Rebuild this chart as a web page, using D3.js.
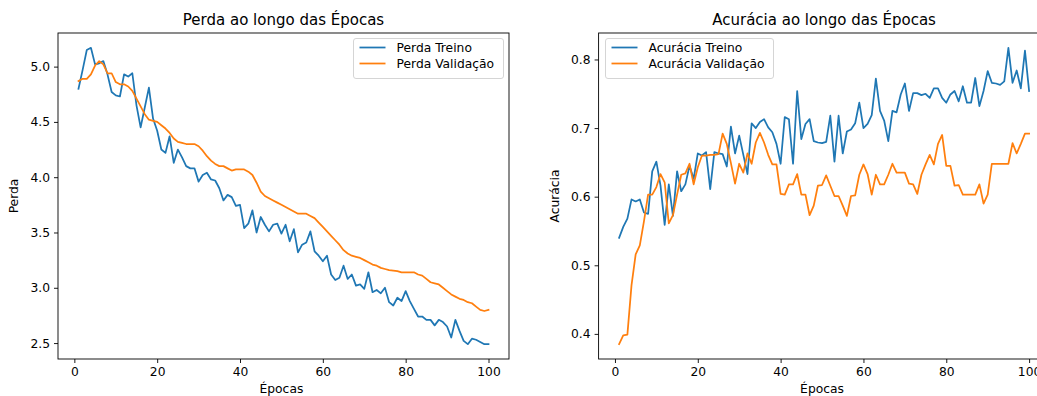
<!DOCTYPE html>
<html>
<head>
<meta charset="utf-8">
<script src="https://cdn.jsdelivr.net/npm/d3@7"></script>
<style>
  body { margin: 0; background: #fff; }
  svg { display: block; overflow: hidden; }
  text { font-family: "DejaVu Sans", sans-serif; fill: #000; }
</style>
</head>
<body>
<main></main>
<script>
const width = 1037;
const height = 396;
const plotTop = 33;
const plotBottom = 359;
const fontSize = 12.3;

// epochs 1..100
const epochs = d3.range(1, 101);

const lossTrain = [
  4.80, 4.97, 5.15, 5.17, 5.02, 5.03, 5.05, 4.93, 4.77, 4.74,
  4.73, 4.93, 4.91, 4.94, 4.65, 4.45, 4.63, 4.81, 4.53, 4.42,
  4.25, 4.22, 4.37, 4.13, 4.25, 4.18, 4.10, 4.08, 4.08, 3.96,
  4.02, 4.04, 3.98, 3.97, 3.90, 3.79, 3.84, 3.82, 3.74, 3.75,
  3.54, 3.58, 3.70, 3.50, 3.64, 3.57, 3.51, 3.57, 3.58, 3.49,
  3.57, 3.42, 3.53, 3.32, 3.39, 3.41, 3.51, 3.33, 3.29, 3.24,
  3.29, 3.12, 3.07, 3.09, 3.20, 3.08, 3.12, 3.02, 3.03, 2.99,
  3.14, 2.96, 2.98, 2.95, 3.00, 2.87, 2.84, 2.91, 2.88, 2.97,
  2.88, 2.81, 2.74, 2.74, 2.71, 2.71, 2.66, 2.71, 2.69, 2.65,
  2.55, 2.71, 2.61, 2.52, 2.49, 2.54, 2.53, 2.51, 2.49, 2.49
];

const lossVal = [
  4.87, 4.89, 4.89, 4.93, 5.01, 5.05, 5.02, 4.94, 4.94, 4.86,
  4.84, 4.84, 4.82, 4.78, 4.71, 4.64, 4.57, 4.52, 4.51, 4.50,
  4.47, 4.44, 4.40, 4.35, 4.32, 4.31, 4.30, 4.30, 4.30, 4.28,
  4.24, 4.19, 4.15, 4.12, 4.10, 4.10, 4.08, 4.06, 4.07, 4.07,
  4.07, 4.05, 4.02, 3.95, 3.87, 3.83, 3.81, 3.79, 3.77, 3.75,
  3.73, 3.71, 3.69, 3.67, 3.67, 3.67, 3.65, 3.63, 3.59, 3.55,
  3.51, 3.47, 3.43, 3.39, 3.34, 3.31, 3.29, 3.28, 3.27, 3.25,
  3.23, 3.21, 3.20, 3.18, 3.17, 3.16, 3.155, 3.15, 3.14, 3.14,
  3.14, 3.14, 3.12, 3.11, 3.08, 3.05, 3.04, 3.03, 3.00, 2.97,
  2.94, 2.92, 2.90, 2.89, 2.87, 2.86, 2.83, 2.80, 2.79, 2.80
];

const accTrain = [
  0.540, 0.556, 0.568, 0.596, 0.593, 0.596, 0.577, 0.575, 0.637, 0.651,
  0.616, 0.559, 0.618, 0.572, 0.637, 0.608, 0.618, 0.645, 0.626, 0.663,
  0.660, 0.665, 0.611, 0.665, 0.663, 0.662, 0.644, 0.702, 0.663, 0.689,
  0.661, 0.633, 0.707, 0.700, 0.709, 0.713, 0.701, 0.694, 0.677, 0.648,
  0.716, 0.713, 0.648, 0.754, 0.684, 0.706, 0.713, 0.681, 0.679, 0.678,
  0.680, 0.718, 0.651, 0.718, 0.663, 0.695, 0.698, 0.707, 0.737, 0.700,
  0.706, 0.719, 0.772, 0.725, 0.711, 0.681, 0.725, 0.723, 0.749, 0.765,
  0.725, 0.751, 0.751, 0.748, 0.750, 0.744, 0.758, 0.758, 0.744, 0.737,
  0.749, 0.754, 0.739, 0.761, 0.737, 0.737, 0.773, 0.732, 0.754, 0.783,
  0.766, 0.765, 0.763, 0.768, 0.817, 0.766, 0.784, 0.758, 0.813, 0.754
];

const accVal = [
  0.385, 0.398, 0.399, 0.471, 0.516, 0.529, 0.564, 0.603, 0.603, 0.614,
  0.633, 0.621, 0.561, 0.573, 0.603, 0.632, 0.634, 0.648, 0.618, 0.643,
  0.660, 0.660, 0.661, 0.661, 0.662, 0.692, 0.677, 0.649, 0.619, 0.648,
  0.635, 0.663, 0.648, 0.679, 0.693, 0.679, 0.661, 0.647, 0.647, 0.604,
  0.603, 0.618, 0.618, 0.633, 0.603, 0.603, 0.573, 0.587, 0.616, 0.617,
  0.631, 0.616, 0.601, 0.601, 0.587, 0.572, 0.601, 0.602, 0.632, 0.647,
  0.633, 0.603, 0.632, 0.618, 0.618, 0.632, 0.648, 0.635, 0.635, 0.635,
  0.619, 0.618, 0.604, 0.632, 0.647, 0.661, 0.647, 0.677, 0.690, 0.645,
  0.645, 0.616, 0.617, 0.603, 0.603, 0.603, 0.603, 0.618, 0.590, 0.603,
  0.648, 0.648, 0.648, 0.648, 0.648, 0.678, 0.663, 0.677, 0.692, 0.692
];

const xTicks = [0, 20, 40, 60, 80, 100];
const lossTicks = [2.5, 3.0, 3.5, 4.0, 4.5, 5.0];
const accTicks = [0.4, 0.5, 0.6, 0.7, 0.8];

const blue = '#1f77b4';
const orange = '#ff7f0e';

const svg = d3.select('main')
  .append('svg')
  .attr('width', width)
  .attr('height', height);

// matplotlib style 5% margins
const padded = (lo, hi) => {
  const m = (hi - lo) * 0.05;
  return [lo - m, hi + m];
};

const drawPanel = (cfg) => {
  const x = d3.scaleLinear().domain(padded(1, 100)).range([cfg.left, cfg.right]);
  const allVals = cfg.train.concat(cfg.val);
  const y = d3.scaleLinear().domain(padded(d3.min(allVals), d3.max(allVals))).range([plotBottom, plotTop]);

  const g = svg.append('g');

  const line = (vals) => d3.line()
    .x((d, i) => x(epochs[i]))
    .y((d) => y(d))(vals);

  g.append('path')
    .attr('d', line(cfg.train))
    .attr('fill', 'none')
    .attr('stroke', blue)
    .attr('stroke-width', 1.75)
    .attr('stroke-linejoin', 'round')
    .attr('stroke-linecap', 'square');

  g.append('path')
    .attr('d', line(cfg.val))
    .attr('fill', 'none')
    .attr('stroke', orange)
    .attr('stroke-width', 1.75)
    .attr('stroke-linejoin', 'round')
    .attr('stroke-linecap', 'square');

  // axes
  const xAxis = g.append('g')
    .attr('transform', 'translate(0,' + plotBottom + ')')
    .call(d3.axisBottom(x).tickValues(xTicks).tickFormat(d3.format('d')).tickSizeOuter(0).tickSize(4).tickPadding(4));

  const yAxis = g.append('g')
    .attr('transform', 'translate(' + cfg.left + ',0)')
    .call(d3.axisLeft(y).tickValues(cfg.ticks).tickFormat(d3.format('.1f')).tickSizeOuter(0).tickSize(4).tickPadding(4));

  [xAxis, yAxis].forEach((a) => {
    a.select('.domain').remove();
    a.selectAll('line').attr('stroke', '#000').attr('stroke-width', 0.9);
    a.selectAll('text')
      .attr('font-family', '"DejaVu Sans", sans-serif')
      .attr('font-size', fontSize)
      .attr('fill', '#000');
  });

  // frame
  g.append('rect')
    .attr('x', cfg.left)
    .attr('y', plotTop)
    .attr('width', cfg.right - cfg.left)
    .attr('height', plotBottom - plotTop)
    .attr('fill', 'none')
    .attr('stroke', '#000')
    .attr('stroke-width', 0.9);

  const cx = (cfg.left + cfg.right) / 2;

  g.append('text')
    .attr('x', cx)
    .attr('y', 25)
    .attr('text-anchor', 'middle')
    .attr('font-size', 15)
    .text(cfg.title);

  g.append('text')
    .attr('x', x(50))
    .attr('y', 393)
    .attr('text-anchor', 'middle')
    .attr('font-size', fontSize)
    .text('Épocas');

  g.append('text')
    .attr('transform', 'translate(' + cfg.ylabelX + ',' + ((plotTop + plotBottom) / 2) + ') rotate(-90)')
    .attr('text-anchor', 'middle')
    .attr('font-size', fontSize)
    .text(cfg.ylabel);

  // legend
  const lg = g.append('g').attr('transform', 'translate(' + cfg.legendX + ',38.5)');
  lg.append('rect')
    .attr('width', cfg.legendW)
    .attr('height', 40)
    .attr('rx', 2.5)
    .attr('fill', '#fff')
    .attr('fill-opacity', 0.8)
    .attr('stroke', '#d0d0d0')
    .attr('stroke-width', 0.9);

  cfg.labels.forEach((lab, i) => {
    const yy = 9 + i * 16;
    lg.append('line')
      .attr('x1', 6).attr('x2', 32)
      .attr('y1', yy).attr('y2', yy)
      .attr('stroke', i === 0 ? blue : orange)
      .attr('stroke-width', 1.75);
    lg.append('text')
      .attr('x', 43)
      .attr('y', yy + 4.3)
      .attr('font-size', fontSize)
      .text(lab);
  });
};

drawPanel({
  left: 58, right: 509,
  train: lossTrain, val: lossVal, ticks: lossTicks,
  title: 'Perda ao longo das Épocas', ylabel: 'Perda', ylabelX: 18,
  labels: ['Perda Treino', 'Perda Validação'],
  legendX: 353.5, legendW: 150
});

drawPanel({
  left: 598.6, right: 1049.6,
  train: accTrain, val: accVal, ticks: accTicks,
  title: 'Acurácia ao longo das Épocas', ylabel: 'Acurácia', ylabelX: 559,
  labels: ['Acurácia Treino', 'Acurácia Validação'],
  legendX: 605.5, legendW: 168
});
</script>
</body>
</html>
